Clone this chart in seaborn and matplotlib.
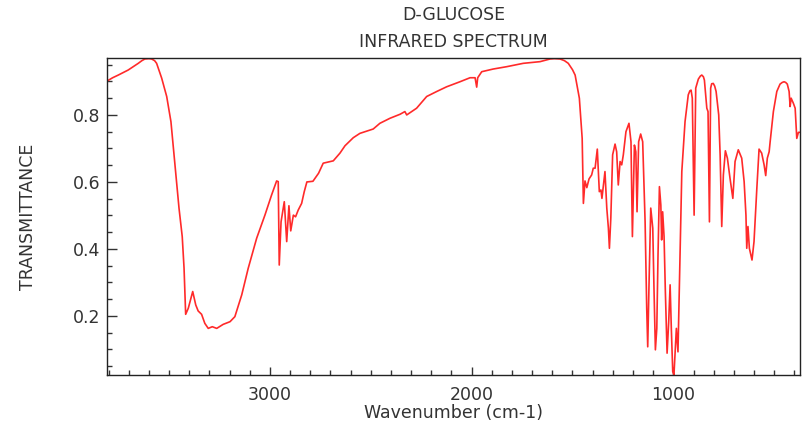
import matplotlib
matplotlib.use("Agg")
import matplotlib.pyplot as plt
from matplotlib.ticker import MultipleLocator, FormatStrFormatter
import seaborn as sns
import pandas as pd

title_lines = ["D-GLUCOSE", "INFRARED SPECTRUM"]
x_label = "Wavenumber (cm-1)"
y_label = "TRANSMITTANCE"

wavenumber = [
    3808, 3780, 3752, 3703, 3653, 3635, 3620, 3600, 3587, 3572, 3562, 3537, 3512, 3491,
    3471, 3451, 3435, 3426,
    3418, 3405, 3383, 3368, 3356, 3339, 3323, 3306, 3286, 3264, 3232, 3198, 3174, 3140,
    3108, 3066, 3025, 2992, 2967, 2959, 2954, 2945, 2929, 2917, 2906, 2897, 2884, 2873,
    2860, 2843, 2830, 2817, 2787, 2759, 2736, 2686, 2653, 2628, 2587, 2554, 2488, 2455,
    2405, 2355, 2331, 2322, 2273, 2223, 2173, 2124, 2058, 2008, 1983, 1975, 1970, 1950,
    1893, 1826, 1744, 1661, 1611, 1590, 1562, 1540, 1521, 1500, 1487, 1466, 1452, 1446,
    1438, 1429, 1418,
    1405, 1397, 1388, 1377, 1367, 1359, 1354, 1339, 1330, 1322, 1317, 1310, 1301, 1289,
    1281, 1273, 1264, 1256, 1248, 1235, 1220, 1210, 1203, 1193, 1186, 1180, 1172, 1162,
    1152, 1140, 1132, 1127, 1121, 1112, 1102, 1096, 1089, 1082, 1076, 1069, 1062, 1058,
    1053, 1046, 1040, 1031, 1023, 1016, 1010, 1003, 997, 990, 985, 977, 967, 958,
    942, 926, 918, 912, 906, 897, 889, 876, 866, 859, 851, 846, 834, 828, 821, 815,
    810, 802, 795,
    788, 775, 768, 760, 752, 742, 732, 719, 705, 694, 678, 661, 649, 640,
    636, 630, 623, 610, 600, 586, 575, 562, 550, 542, 534, 525, 520, 504,
    487, 471, 460, 451, 443, 435, 426, 421, 416, 405, 396, 388, 380, 372,
]

transmittance = [
    0.901, 0.911, 0.919, 0.934, 0.954, 0.962, 0.967, 0.968, 0.967, 0.962, 0.954, 0.910, 0.855, 0.780,
    0.651, 0.522, 0.437, 0.343,
    0.205, 0.223, 0.273, 0.233, 0.215, 0.205, 0.178, 0.163, 0.168, 0.163, 0.175, 0.183, 0.198, 0.263,
    0.342, 0.432, 0.501, 0.561, 0.603, 0.601, 0.352, 0.481, 0.541, 0.422, 0.529, 0.454, 0.501, 0.496,
    0.516, 0.536, 0.571, 0.600, 0.602, 0.626, 0.656, 0.663, 0.686, 0.708, 0.732, 0.745, 0.758, 0.775,
    0.790, 0.802, 0.810, 0.800, 0.820, 0.855, 0.870, 0.884, 0.899, 0.911, 0.911, 0.883, 0.911, 0.929,
    0.937, 0.944, 0.954, 0.959, 0.967, 0.968, 0.967, 0.962, 0.954, 0.935, 0.919, 0.850, 0.730, 0.536,
    0.603, 0.583, 0.609,
    0.621, 0.641, 0.641, 0.698, 0.571, 0.576, 0.551, 0.631, 0.522, 0.462, 0.402, 0.492, 0.681, 0.713,
    0.690, 0.591, 0.661, 0.651, 0.681, 0.750, 0.775, 0.720, 0.437, 0.710, 0.690, 0.511, 0.720, 0.743,
    0.720, 0.481, 0.223, 0.108, 0.283, 0.522, 0.462, 0.283, 0.099, 0.163, 0.382, 0.586, 0.531, 0.427,
    0.511, 0.437, 0.283, 0.089, 0.183, 0.293, 0.163, 0.034, 0.024, 0.104, 0.163, 0.093, 0.382, 0.631,
    0.780, 0.860, 0.872, 0.874, 0.850, 0.501, 0.880, 0.907, 0.916, 0.919, 0.914, 0.904, 0.820, 0.810, 0.481, 0.880,
    0.893, 0.894, 0.886,
    0.870, 0.800, 0.681, 0.467, 0.621, 0.693, 0.671, 0.611, 0.551, 0.661, 0.696, 0.671, 0.601, 0.501,
    0.402, 0.467, 0.402, 0.367, 0.422, 0.581, 0.698, 0.686, 0.651, 0.619, 0.671, 0.690, 0.720, 0.810,
    0.870, 0.892, 0.897, 0.899, 0.897, 0.892, 0.870, 0.825, 0.850, 0.835, 0.820, 0.730, 0.748, 0.748,
]

df = pd.DataFrame({"wavenumber": wavenumber, "transmittance": transmittance})

sns.set_style("ticks")
plt.rcParams["font.family"] = ["DejaVu Sans"]

text_color = "#333333"
fig = plt.figure(figsize=(8.03, 4.26), dpi=100)
ax = fig.add_axes([107 / 803, 1 - 375.3 / 426, 693 / 803, 317 / 426])

sns.lineplot(data=df, x="wavenumber", y="transmittance", sort=False, estimator=None,
             color="#ff2a2a", linewidth=1.2, ax=ax)

ax.set_xlim(3808, 372)
ax.set_ylim(0.023, 0.969)

ax.xaxis.set_major_locator(MultipleLocator(1000))
ax.xaxis.set_minor_locator(MultipleLocator(100))
ax.yaxis.set_major_locator(MultipleLocator(0.2))
ax.yaxis.set_minor_locator(MultipleLocator(0.05))
ax.yaxis.set_major_formatter(FormatStrFormatter("%.1f"))

ax.tick_params(which="both", direction="in", top=False, right=False,
               color="#333333", width=1.0, labelsize=12.5, labelcolor=text_color)
ax.tick_params(axis="y", which="major", length=7, pad=5)
ax.tick_params(axis="y", which="minor", length=3.5)
ax.tick_params(axis="x", which="major", length=6, pad=8)
ax.tick_params(axis="x", which="minor", length=3.5)

for s in ax.spines.values():
    s.set_color("#222222")
    s.set_linewidth(1.0)

ax.set_xlabel(x_label, fontsize=12.5, color=text_color)
ax.set_ylabel(y_label, fontsize=12.5, color=text_color)
ax.xaxis.label.set_va("center")
ax.xaxis.set_label_coords(0.5, -(413 - 375.3) / 317)
ax.yaxis.label.set_va("center")
ax.yaxis.set_label_coords(-(107 - 28.5) / 693, 0.5)

cx = (107 + 800) / 2 / 803
fig.text(cx, 1 - 15 / 426, title_lines[0], ha="center", va="center", fontsize=12.5, color=text_color)
fig.text(cx, 1 - 42 / 426, title_lines[1], ha="center", va="center", fontsize=12.5, color=text_color)

fig.savefig("out.png", dpi=100)
